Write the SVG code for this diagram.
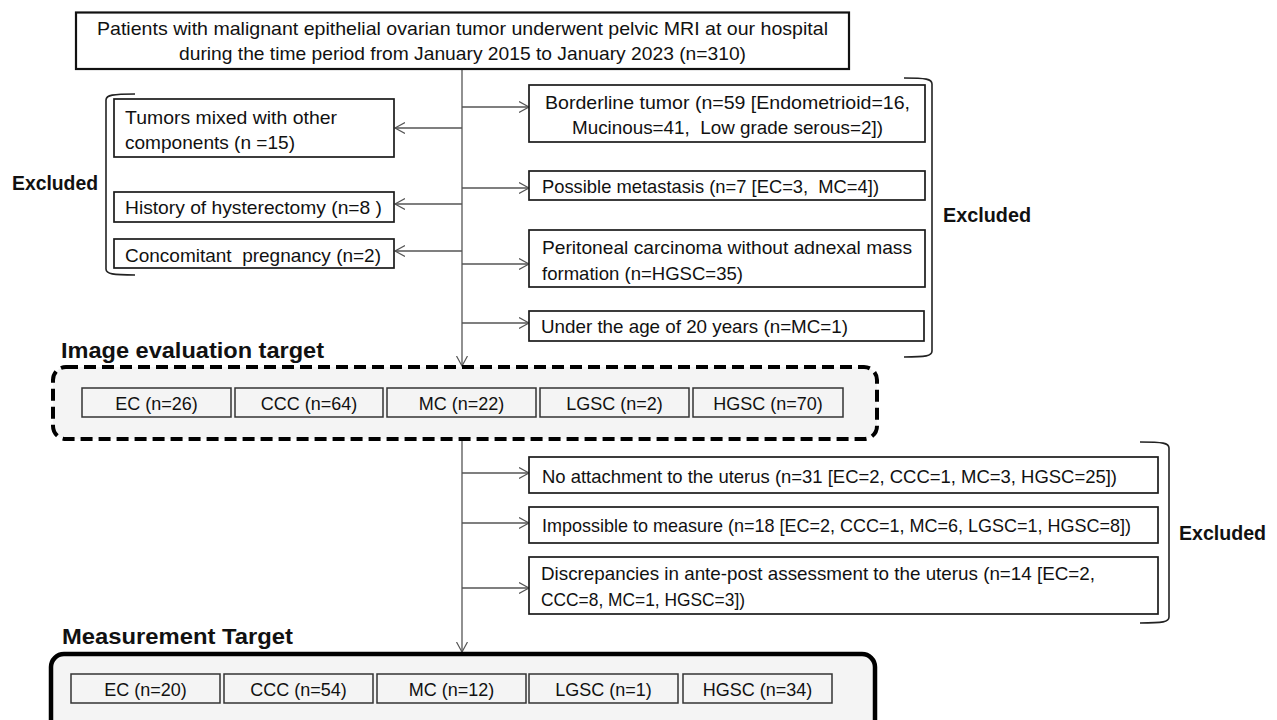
<svg xmlns="http://www.w3.org/2000/svg" width="1277" height="720" viewBox="0 0 1277 720">
<style>
text{font-family:"Liberation Sans",Arial,sans-serif;font-size:18.5px;fill:#111}
.b{font-weight:bold}
.box{fill:#fff;stroke:#1a1a1a;stroke-width:1.7}
.cell{fill:#f4f4f4;stroke:#333;stroke-width:1.5}
.cell+text{font-size:18px}
.conn{stroke:#555;stroke-width:1.3;fill:none}
.br{stroke:#222;stroke-width:1.6;fill:none}
.c{text-anchor:middle}
</style>
<defs>
<marker id="ah" markerUnits="userSpaceOnUse" markerWidth="14" markerHeight="14" refX="10" refY="6" orient="auto">
<path d="M0,0.5 L10,6 L0,11.5" fill="none" stroke="#555" stroke-width="1.2"/>
</marker>
</defs>
<rect width="1277" height="720" fill="#fff"/>

<g id="connectors">
<line class="conn" x1="462" y1="69" x2="462" y2="366" marker-end="url(#ah)"/>
<line class="conn" x1="462" y1="128" x2="395" y2="128" marker-end="url(#ah)"/>
<line class="conn" x1="462" y1="204" x2="395" y2="204" marker-end="url(#ah)"/>
<line class="conn" x1="462" y1="251" x2="395" y2="251" marker-end="url(#ah)"/>
<line class="conn" x1="462" y1="107" x2="529" y2="107" marker-end="url(#ah)"/>
<line class="conn" x1="462" y1="188" x2="529" y2="188" marker-end="url(#ah)"/>
<line class="conn" x1="462" y1="264" x2="529" y2="264" marker-end="url(#ah)"/>
<line class="conn" x1="462" y1="323" x2="529" y2="323" marker-end="url(#ah)"/>
<line class="conn" x1="462" y1="439" x2="462" y2="652" marker-end="url(#ah)"/>
<line class="conn" x1="462" y1="473" x2="529" y2="473" marker-end="url(#ah)"/>
<line class="conn" x1="462" y1="523" x2="529" y2="523" marker-end="url(#ah)"/>
<line class="conn" x1="462" y1="588" x2="529" y2="588" marker-end="url(#ah)"/>
</g>

<g id="start">
<rect x="76" y="12.5" width="773" height="56.5" fill="#fff" stroke="#111" stroke-width="2.2"/>
<text x="97" y="34.5" textLength="731" lengthAdjust="spacingAndGlyphs">Patients with malignant epithelial ovarian tumor underwent pelvic MRI at our hospital</text>
<text x="179" y="59.5" textLength="567" lengthAdjust="spacingAndGlyphs">during the time period from January 2015 to January 2023 (n=310)</text>
</g>

<g id="excluded-left">
<path class="br" d="M135 94 C113 94 106 95 106 100 L106 269 C106 274 113 275 135 275"/>
<text class="b" x="12" y="190" textLength="86" lengthAdjust="spacingAndGlyphs" style="font-size:20px">Excluded</text>
</g>
<g id="ex-tumors">
<rect class="box" x="114" y="99" width="280" height="58"/>
<text x="125" y="123.5" textLength="212" lengthAdjust="spacingAndGlyphs">Tumors mixed with other</text>
<text x="125" y="148.5" textLength="170" lengthAdjust="spacingAndGlyphs">components (n =15)</text>
</g>
<g id="ex-hysterectomy">
<rect class="box" x="114" y="192" width="280" height="30"/>
<text x="125" y="213.5" textLength="257" lengthAdjust="spacingAndGlyphs">History of hysterectomy (n=8 )</text>
</g>
<g id="ex-pregnancy">
<rect class="box" x="114" y="239" width="280" height="29"/>
<text x="125" y="261.5" textLength="256" lengthAdjust="spacingAndGlyphs" xml:space="preserve">Concomitant  pregnancy (n=2)</text>
</g>

<g id="excluded-right-1">
<path class="br" d="M904 78 C926 78 932 79 932 84 L932 351 C932 356 926 357 904 357"/>
<text class="b" x="943" y="222" textLength="88" lengthAdjust="spacingAndGlyphs" style="font-size:20px">Excluded</text>
</g>
<g id="ex-borderline">
<rect class="box" x="529" y="85" width="396" height="57"/>
<text x="545" y="108.5" textLength="365" lengthAdjust="spacingAndGlyphs">Borderline tumor (n=59 [Endometrioid=16,</text>
<text x="572" y="133.5" textLength="311" lengthAdjust="spacingAndGlyphs" xml:space="preserve">Mucinous=41,  Low grade serous=2])</text>
</g>
<g id="ex-metastasis">
<rect class="box" x="529" y="171" width="396" height="29"/>
<text x="542" y="192.5" textLength="337" lengthAdjust="spacingAndGlyphs" xml:space="preserve">Possible metastasis (n=7 [EC=3,  MC=4])</text>
</g>
<g id="ex-peritoneal">
<rect class="box" x="529" y="230" width="396" height="57"/>
<text x="542" y="253.5" textLength="370" lengthAdjust="spacingAndGlyphs">Peritoneal carcinoma without adnexal mass</text>
<text x="542" y="279.5" textLength="201" lengthAdjust="spacingAndGlyphs">formation (n=HGSC=35)</text>
</g>
<g id="ex-age">
<rect class="box" x="529" y="311" width="395" height="30"/>
<text x="541" y="332.5" textLength="307" lengthAdjust="spacingAndGlyphs">Under the age of 20 years (n=MC=1)</text>
</g>

<g id="image-evaluation-target">
<text class="b" x="61" y="358" textLength="263" lengthAdjust="spacingAndGlyphs" style="font-size:22.5px">Image evaluation target</text>
<rect x="53" y="367" width="824" height="72" rx="13" fill="#f4f4f4" stroke="#000" stroke-width="4" stroke-dasharray="12 6"/>
<rect class="cell" x="82" y="388" width="149" height="29"/><text class="c" x="156.5" y="409.5">EC (n=26)</text>
<rect class="cell" x="235" y="388" width="148" height="29"/><text class="c" x="309" y="409.5">CCC (n=64)</text>
<rect class="cell" x="387" y="388" width="149" height="29"/><text class="c" x="461.5" y="409.5">MC (n=22)</text>
<rect class="cell" x="540" y="388" width="149" height="29"/><text class="c" x="614.5" y="409.5">LGSC (n=2)</text>
<rect class="cell" x="693" y="388" width="150" height="29"/><text class="c" x="768" y="409.5">HGSC (n=70)</text>
</g>

<g id="excluded-right-2">
<path class="br" d="M1140 442 C1163 442 1169 443 1169 448 L1169 617 C1169 622 1163 623 1140 623"/>
<text class="b" x="1179" y="540" textLength="87" lengthAdjust="spacingAndGlyphs" style="font-size:20px">Excluded</text>
</g>
<g id="ex-attachment">
<rect class="box" x="529" y="457" width="629" height="36"/>
<text x="542" y="482.5" textLength="575" lengthAdjust="spacingAndGlyphs">No attachment to the uterus (n=31 [EC=2, CCC=1, MC=3, HGSC=25])</text>
</g>
<g id="ex-measure">
<rect class="box" x="529" y="507" width="629" height="36"/>
<text x="542" y="531.5" textLength="589" lengthAdjust="spacingAndGlyphs">Impossible to measure (n=18 [EC=2, CCC=1, MC=6, LGSC=1, HGSC=8])</text>
</g>
<g id="ex-discrepancies">
<rect class="box" x="529" y="557" width="629" height="57"/>
<text x="541" y="579.5" textLength="554" lengthAdjust="spacingAndGlyphs">Discrepancies in ante-post assessment to the uterus (n=14 [EC=2,</text>
<text x="541" y="605.5" textLength="204" lengthAdjust="spacingAndGlyphs">CCC=8, MC=1, HGSC=3])</text>
</g>

<g id="measurement-target">
<text class="b" x="62" y="644" textLength="231" lengthAdjust="spacingAndGlyphs" style="font-size:22.5px">Measurement Target</text>
<rect x="51" y="654" width="824" height="100" rx="13" fill="#f4f4f4" stroke="#000" stroke-width="4.5"/>
<rect class="cell" x="71" y="674" width="149" height="29"/><text class="c" x="145.5" y="695.5">EC (n=20)</text>
<rect class="cell" x="224" y="674" width="149" height="29"/><text class="c" x="298.5" y="695.5">CCC (n=54)</text>
<rect class="cell" x="377" y="674" width="149" height="29"/><text class="c" x="451.5" y="695.5">MC (n=12)</text>
<rect class="cell" x="529" y="674" width="149" height="29"/><text class="c" x="603.5" y="695.5">LGSC (n=1)</text>
<rect class="cell" x="683" y="674" width="149" height="29"/><text class="c" x="757.5" y="695.5">HGSC (n=34)</text>
</g>
</svg>
